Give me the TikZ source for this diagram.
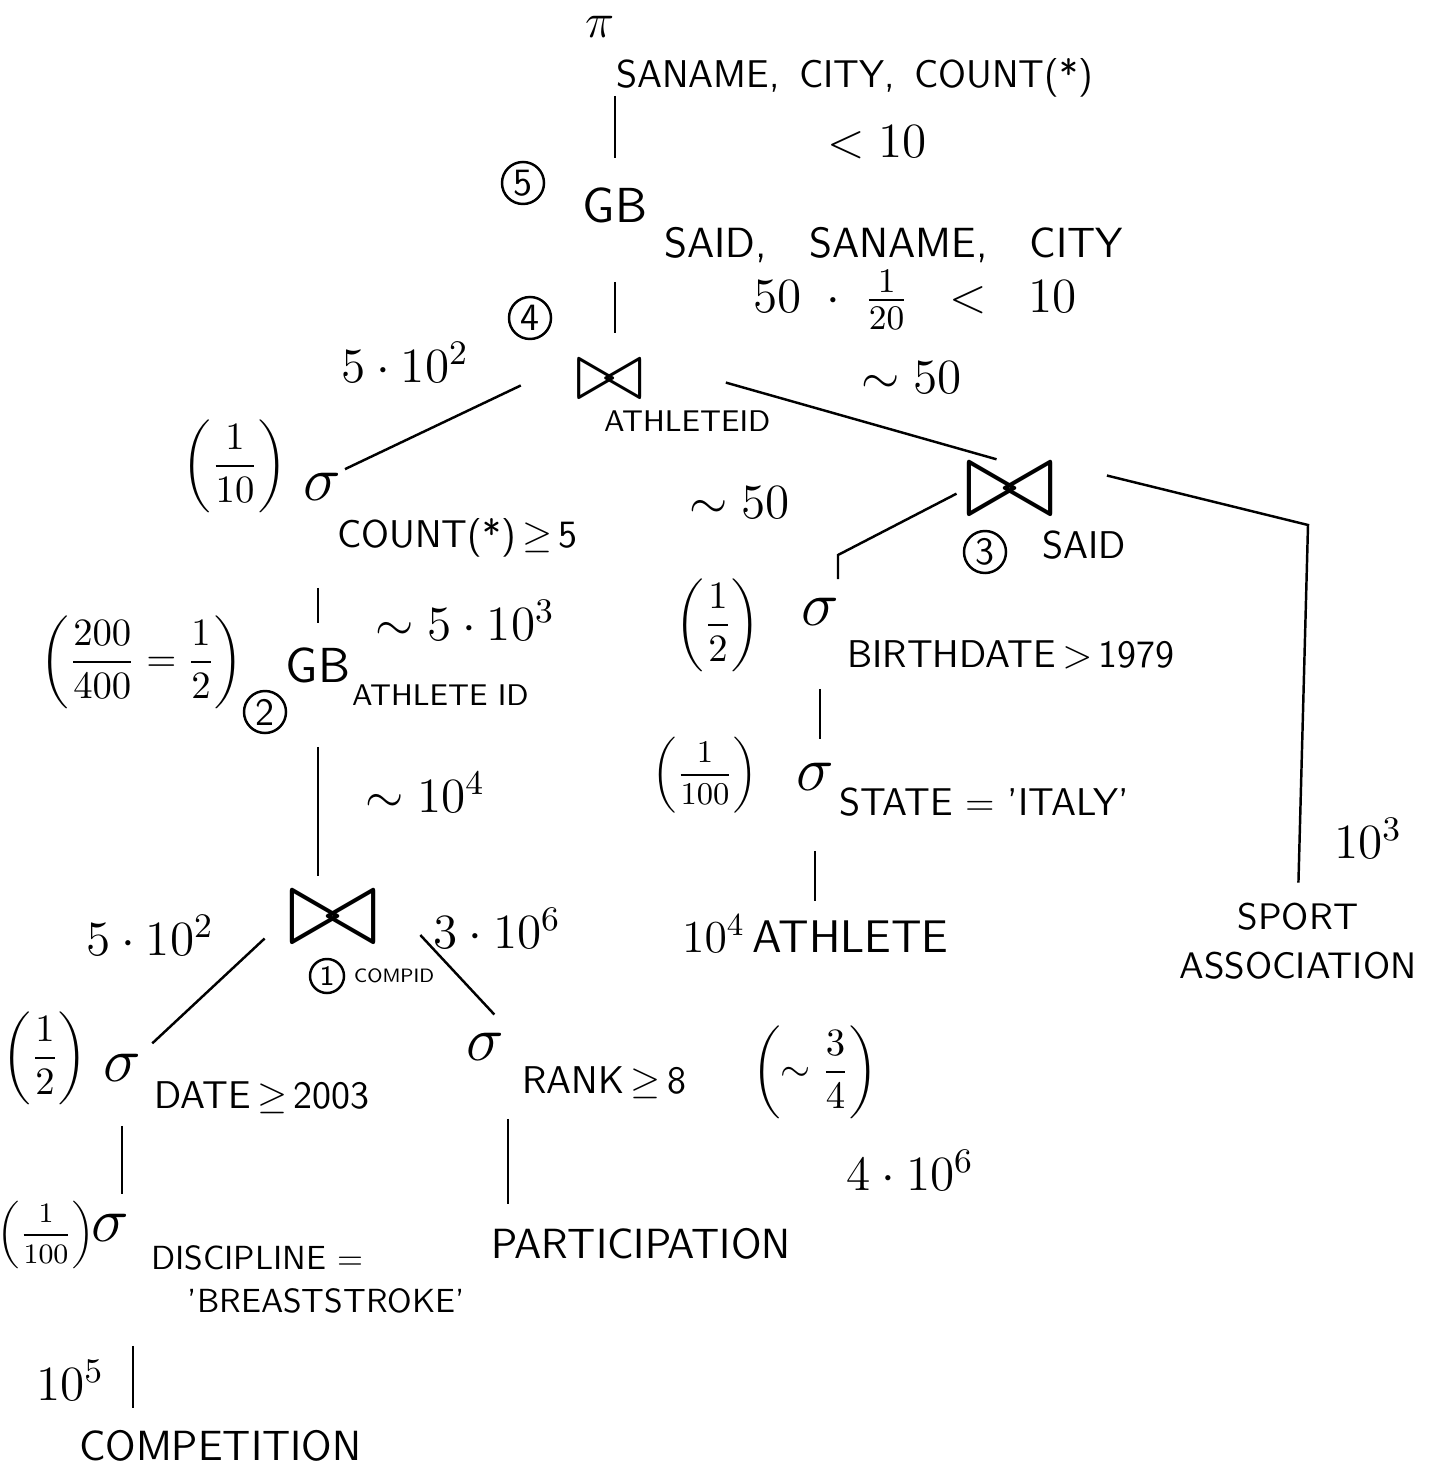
\RequirePackage{fix-cm}
\documentclass[tikz,border=0pt]{standalone}
\usepackage{amsmath}
\usepackage{amssymb}
\usepackage{fontspec}
\usepackage{tikz}

\begin{document}
\begin{tikzpicture}[x=0.01cm,y=-0.01cm,
    txt/.style={font=\sffamily\fontsize{11}{13}\selectfont,inner sep=1pt},
    rel/.style={font=\sffamily\fontsize{12}{14}\selectfont,inner sep=1pt},
    lbl/.style={font=\sffamily\fontsize{8.5}{10}\selectfont,inner sep=1pt},
    gbop/.style={font=\sffamily\fontsize{14}{16}\selectfont,inner sep=1pt},
    est/.style={font=\fontsize{14}{16}\selectfont,inner sep=1pt},
    frac/.style={font=\fontsize{11}{13}\selectfont,inner sep=1pt},
    sig/.style={font=\fontsize{18}{20}\selectfont,inner sep=1pt},
    joinop/.style={font=\fontsize{32}{34}\selectfont,inner sep=0pt},
    num/.style={circle,draw,line width=0.7pt,minimum size=0.42cm,inner sep=0pt,font=\sffamily\fontsize{11}{13}\selectfont},
    link/.style={line width=0.7pt}]
    \useasboundingbox (0,0) rectangle (1431,1470);

    \node[est] (proj) at (600,27) {$\pi$};
    \node[txt,anchor=base west] (projattr) at (612,88) {SANAME,\enspace CITY,\enspace COUNT(*)};
    \node[est] (estgb5) at (877,142) {$<10$};

    \node[num] (n5) at (523,183) {5};
    \node[gbop] (gb5) at (615,205) {GB};
    \node[txt,font=\sffamily\fontsize{12}{14}\selectfont,anchor=base west] (gb5attr) at (660,258) {SAID,\quad SANAME,\quad CITY};
    \node[est] (estjoin4) at (915,300) {$50\;\cdot\;\frac{1}{20}\;\;<\;\;10$};

    \node[num] (n4) at (530,318) {4};
    \node[joinop,font=\fontsize{24}{26}\selectfont] (join4) at (610,380) {$\bowtie$};
    \node[lbl,anchor=base west] (join4attr) at (600,432) {ATHLETEID};
    \node[est] (estcntl) at (405,362) {$5\cdot 10^2$};
    \node[est] (estjoin3) at (912,378) {$\sim 50$};

    \node[frac] (selcnt) at (235,466) {$\left(\dfrac{1}{10}\right)$};
    \node[sig] (sigcnt) at (322,487) {$\sigma$};
    \node[txt,anchor=base west] (sigcntattr) at (333,547) {COUNT(*)\,$\geq$\,5};

    \node[est] (estgb2) at (465,620) {$\sim 5\cdot 10^3$};
    \node[frac] (selgb2) at (142,662) {$\left(\dfrac{200}{400}=\dfrac{1}{2}\right)$};
    \node[gbop] (gb2) at (318,665) {GB};
    \node[lbl,anchor=base west] (gb2attr) at (348,705) {ATHLETE ID};
    \node[num] (n2) at (265,712) {2};
    \node[est] (estjoin1) at (425,792) {$\sim 10^4$};

    \node[joinop] (join1) at (333,918) {$\bowtie$};
    \node[num,minimum size=0.34cm,font=\sffamily\fontsize{8}{10}\selectfont] (n1) at (327,976) {1};
    \node[lbl,font=\sffamily\fontsize{5.5}{7}\selectfont,anchor=base west] (join1attr) at (350,982) {COMPID};
    \node[est] (estdate) at (150,935) {$5\cdot 10^2$};
    \node[est] (estrank) at (497,928) {$3\cdot 10^6$};

    \node[frac] (seldate) at (45,1058) {$\left(\dfrac{1}{2}\right)$};
    \node[sig] (sigdate) at (122,1068) {$\sigma$};
    \node[txt,anchor=base west] (sigdateattr) at (150,1108) {DATE\,$\geq$\,2003};

    \node[sig] (sigrank) at (485,1047) {$\sigma$};
    \node[txt,anchor=base west] (sigrankattr) at (518,1093) {RANK\,$\geq$\,8};
    \node[frac] (selrank) at (815,1072) {$\left(\sim\dfrac{3}{4}\right)$};
    \node[est] (estpart) at (910,1170) {$4\cdot 10^6$};

    \node[frac,font=\fontsize{8}{10}\selectfont] (seldisc) at (46,1235) {$\left(\dfrac{1}{100}\right)$};
    \node[sig] (sigdisc) at (110,1228) {$\sigma$};
    \node[txt,font=\sffamily\fontsize{9.5}{12.2}\selectfont,anchor=north west,align=left] (sigdiscattr) at (147,1241) {DISCIPLINE =\\\hspace{1.1em}'BREASTSTROKE'};
    \node[rel,anchor=base west] (part) at (487,1258) {PARTICIPATION};
    \node[est] (estcomp) at (70,1380) {$10^5$};
    \node[rel,anchor=base west] (comp) at (75,1460) {COMPETITION};

    \node[joinop] (join3) at (1010,490) {$\bowtie$};
    \node[num] (n3) at (985,552) {3};
    \node[txt,anchor=base west] (join3attr) at (1038,558) {SAID};
    \node[est] (estbirth) at (740,503) {$\sim 50$};
    \coordinate (birthbend) at (838,555);
    \coordinate (sportbend) at (1308,525);

    \node[frac] (selbirth) at (718,625) {$\left(\dfrac{1}{2}\right)$};
    \node[sig] (sigbirth) at (820,612) {$\sigma$};
    \node[txt,anchor=base west] (sigbirthattr) at (843,667) {BIRTHDATE\,$>$\,1979};

    \node[frac,font=\fontsize{9}{11}\selectfont] (selstate) at (705,775) {$\left(\dfrac{1}{100}\right)$};
    \node[sig] (sigstate) at (815,777) {$\sigma$};
    \node[txt,anchor=base west] (sigstateattr) at (835,815) {STATE = 'ITALY'};
    \node[rel,font=\sffamily\fontsize{13}{15}\selectfont,anchor=base west] (ath) at (678,952) {$10^4$\,ATHLETE};

    \node[rel,font=\sffamily\fontsize{10.5}{14}\selectfont,align=center] (sport) at (1298,941) {SPORT\\ASSOCIATION};
    \node[est] (estsport) at (1368,838) {$10^3$};

    \draw[link,shorten <=0.54cm,shorten >=0.25cm] (gb5.north |- proj.south) -- (gb5.north);
    \draw[link,shorten <=0.55cm,shorten >=0.27cm] (gb5.south) -- (gb5.south |- join4.north);
    \draw[link,shorten <=0.6cm] (join4.north west) -- (sigcnt.north east);
    \draw[link,shorten <=0.84cm,shorten >=0.14cm] (join4.north east) -- (join3.north);
    \draw[link,shorten <=0.83cm,shorten >=0.2cm] (gb2.north |- sigcnt.south) -- (gb2.north);
    \draw[link,shorten <=0.6cm,shorten >=0.15cm] (gb2.south) -- (gb2.south |- join1.north);
    \draw[link,shorten <=0.3cm,shorten >=0.1cm] (join1.west) -- (sigdate.north east);
    \draw[link,shorten <=0.6cm,shorten >=0.2cm] (join1.north east) -- (sigrank.north east);
    \draw[link,shorten <=0.4cm,shorten >=0.16cm] (sigdate.south) -- (sigdate.south |- sigdisc.north);
    \draw[link,shorten <=0.54cm,shorten >=0.2cm] (sigrank.south east) -- (sigrank.south east |- part.north);
    \draw[link,shorten <=1.0cm,shorten >=0.18cm] (sigdisc.south east) -- (sigdisc.south east |- comp.north);
    \draw[link,shorten <=0.08cm,shorten >=0.15cm] (join3.west) -- (birthbend) -- (birthbend |- sigbirth.north);
    \draw[link,shorten <=0.52cm,shorten >=0.16cm] (join3.north east) -- (sportbend) -- (sport.north);
    \draw[link,shorten <=0.59cm,shorten >=0.2cm] (sigbirth.south) -- (sigbirth.south |- sigstate.north);
    \draw[link,shorten <=0.56cm,shorten >=0.1cm] (sigstate.south) -- (sigstate.south |- ath.north);
\end{tikzpicture}
\end{document}
